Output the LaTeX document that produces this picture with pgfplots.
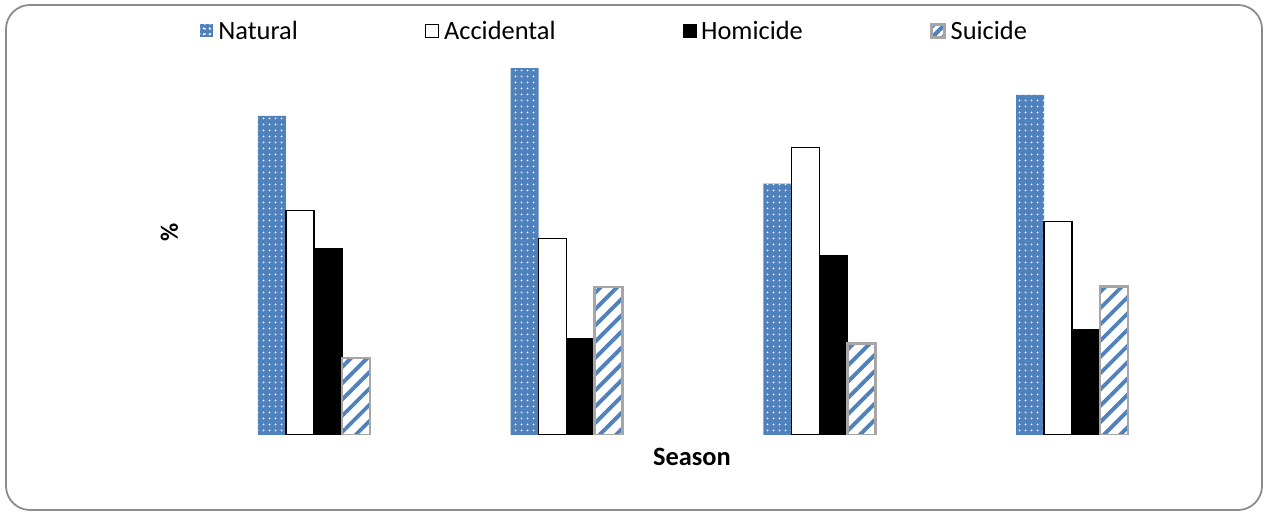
\documentclass[border=0pt]{standalone}
\usepackage{pgfplots}
\pgfplotsset{compat=1.18}
\usepackage{fontspec}
\setmainfont{Carlito}
\usetikzlibrary{patterns.meta}
\definecolor{nblue}{HTML}{4F81BD}
\definecolor{sgray}{HTML}{A6A6A6}
\definecolor{bgray}{HTML}{8C8C8C}
\begin{document}
\begin{tikzpicture}[x=1bp,y=1bp]
\useasboundingbox (0,0) rectangle (1268,514);
\draw[bgray, line width=1.8bp, rounded corners=24bp] (6,4) rectangle (1262,509);
\begin{axis}[
  at={(187.5bp,79bp)}, anchor=south west,
  scale only axis, width=1011bp, height=404bp,
  xmin=-0.5, xmax=3.5, ymin=0, ymax=50,
  axis line style={draw=none},
  xtick=\empty, ytick=\empty,
  ybar=0pt, bar width=28bp,
  xlabel={\bfseries Season},
  ylabel={\bfseries \%},
  xlabel style={at={(rel axis cs:0.499,-0.054)}, anchor=center, font=\fontsize{26.5}{30}\selectfont},
  ylabel style={at={(rel axis cs:-0.018,0.502)}, anchor=center, rotate=0, font=\fontsize{25}{30}\selectfont},
  legend style={at={(0.424,1.0)}, anchor=center, draw=none, fill=none,
    legend columns=4, font=\fontsize{26.5}{30}\selectfont,
    /tikz/every even column/.append style={column sep=122bp},
    nodes={inner xsep=5bp}},
]
\addplot[fill=nblue, draw=none, postaction={pattern={Dots[distance=6bp, radius=1.1bp]}, pattern color=white},
  legend image code/.code={\fill[nblue] (0bp,-6.5bp) rectangle (13bp,6.5bp); \fill[pattern={Dots[distance=5bp, radius=1bp]}, pattern color=white] (0bp,-6.5bp) rectangle (13bp,6.5bp);}]
  coordinates {(0,39.5) (1,45.4) (2,31.1) (3,42.1)};
\addplot[fill=white, draw=black, line width=1.5bp,
  legend image code/.code={\draw[fill=white, draw=black, line width=1.2bp] (0bp,-6.5bp) rectangle (13bp,6.5bp);}]
  coordinates {(0,27.8) (1,24.3) (2,35.6) (3,26.4)};
\addplot[fill=black, draw=black, line width=0.5bp,
  legend image code/.code={\fill[black] (0bp,-6.5bp) rectangle (13bp,6.5bp);}]
  coordinates {(0,23.1) (1,12.0) (2,22.2) (3,13.1)};
\addplot[fill=white, draw=sgray, line width=2.5bp, postaction={pattern={Lines[angle=45, distance=11.5bp, line width=3.8bp]}, pattern color=nblue},
  legend image code/.code={\draw[fill=white, draw=sgray, line width=1.5bp] (0bp,-6.5bp) rectangle (13bp,6.5bp); \fill[pattern={Lines[angle=45, distance=7bp, line width=2.8bp]}, pattern color=nblue] (0bp,-6.5bp) rectangle (13bp,6.5bp);}]
  coordinates {(0,9.5) (1,18.3) (2,11.3) (3,18.4)};
\legend{Natural, Accidental, Homicide, Suicide}
\end{axis}
\end{tikzpicture}
\end{document}
